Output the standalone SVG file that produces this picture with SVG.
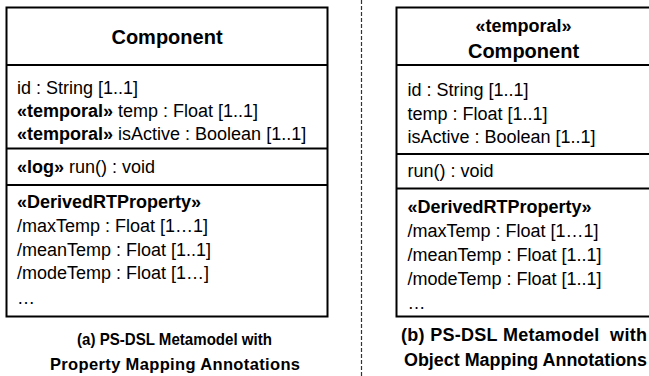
<svg xmlns="http://www.w3.org/2000/svg" width="649" height="376" viewBox="0 0 649 376">
  <style>
    .box { fill: #ffffff; stroke: #000000; stroke-width: 2; }
    .div { stroke: #000000; stroke-width: 2; }
    text { font-family: "Liberation Sans", Arial, sans-serif; fill: #000000; }
    .name { font-size: 20px; font-weight: bold; text-anchor: middle; }
    .stereo { font-size: 18px; font-weight: bold; text-anchor: middle; }
    .row { font-size: 18px; }
    .b { font-weight: bold; }
    .cap { font-weight: bold; }
    .sep { stroke: #333333; stroke-width: 1.2; stroke-dasharray: 4 2; fill: none; }
  </style>

  <!-- vertical divider between the two panels -->
  <g id="connectors">
    <line class="sep" x1="361.5" y1="0" x2="361.5" y2="376"/>
  </g>

  <!-- (a) class with property mapping annotations -->
  <g id="component-a">
    <rect class="box" x="6.5" y="7.5" width="321" height="309"/>
    <line class="div" x1="6.5" y1="65" x2="327.5" y2="65"/>
    <line class="div" x1="6.5" y1="148.5" x2="327.5" y2="148.5"/>
    <line class="div" x1="6.5" y1="185" x2="327.5" y2="185"/>
    <text class="name" x="167" y="44">Component</text>
    <text class="row" x="17" y="94">id : String [1..1]</text>
    <text class="row" x="17" y="117"><tspan class="b">«temporal»</tspan> temp : Float [1..1]</text>
    <text class="row" x="17" y="140"><tspan class="b">«temporal»</tspan> isActive : Boolean [1..1]</text>
    <text class="row" x="17" y="173"><tspan class="b">«log»</tspan> run() : void</text>
    <text class="row b" x="17" y="208">«DerivedRTProperty»</text>
    <text class="row" x="17" y="232">/maxTemp : Float [1…1]</text>
    <text class="row" x="17" y="256">/meanTemp : Float [1..1]</text>
    <text class="row" x="17" y="279">/modeTemp : Float [1…]</text>
    <text class="row" x="17" y="304">…</text>
  </g>
  <g id="caption-a">
    <text class="cap" x="77" y="345" font-size="16.5" textLength="195" lengthAdjust="spacingAndGlyphs">(a) PS-DSL Metamodel with</text>
    <text class="cap" x="50" y="370" font-size="16.5" textLength="250">Property Mapping Annotations</text>
  </g>

  <!-- (b) class with object mapping annotation -->
  <g id="component-b">
    <rect class="box" x="396.5" y="7.5" width="254" height="309"/>
    <line class="div" x1="396.5" y1="65" x2="650.5" y2="65"/>
    <line class="div" x1="396.5" y1="154" x2="650.5" y2="154"/>
    <line class="div" x1="396.5" y1="188.5" x2="650.5" y2="188.5"/>
    <text class="stereo" x="523.5" y="32">«temporal»</text>
    <text class="name" x="523.5" y="58">Component</text>
    <text class="row" x="407.5" y="96">id : String [1..1]</text>
    <text class="row" x="407.5" y="120">temp : Float [1..1]</text>
    <text class="row" x="407.5" y="143">isActive : Boolean [1..1]</text>
    <text class="row" x="407.5" y="177">run() : void</text>
    <text class="row b" x="407.5" y="213">«DerivedRTProperty»</text>
    <text class="row" x="407.5" y="237">/maxTemp : Float [1…1]</text>
    <text class="row" x="407.5" y="261">/meanTemp : Float [1..1]</text>
    <text class="row" x="407.5" y="285">/modeTemp : Float [1..1]</text>
    <text class="row" x="407.5" y="309">…</text>
  </g>
  <g id="caption-b">
    <text class="cap" x="401" y="341" font-size="18" textLength="246" xml:space="preserve">(b) PS-DSL Metamodel  with</text>
    <text class="cap" x="404" y="366" font-size="17.5" textLength="243" lengthAdjust="spacingAndGlyphs">Object Mapping Annotations</text>
  </g>
</svg>
